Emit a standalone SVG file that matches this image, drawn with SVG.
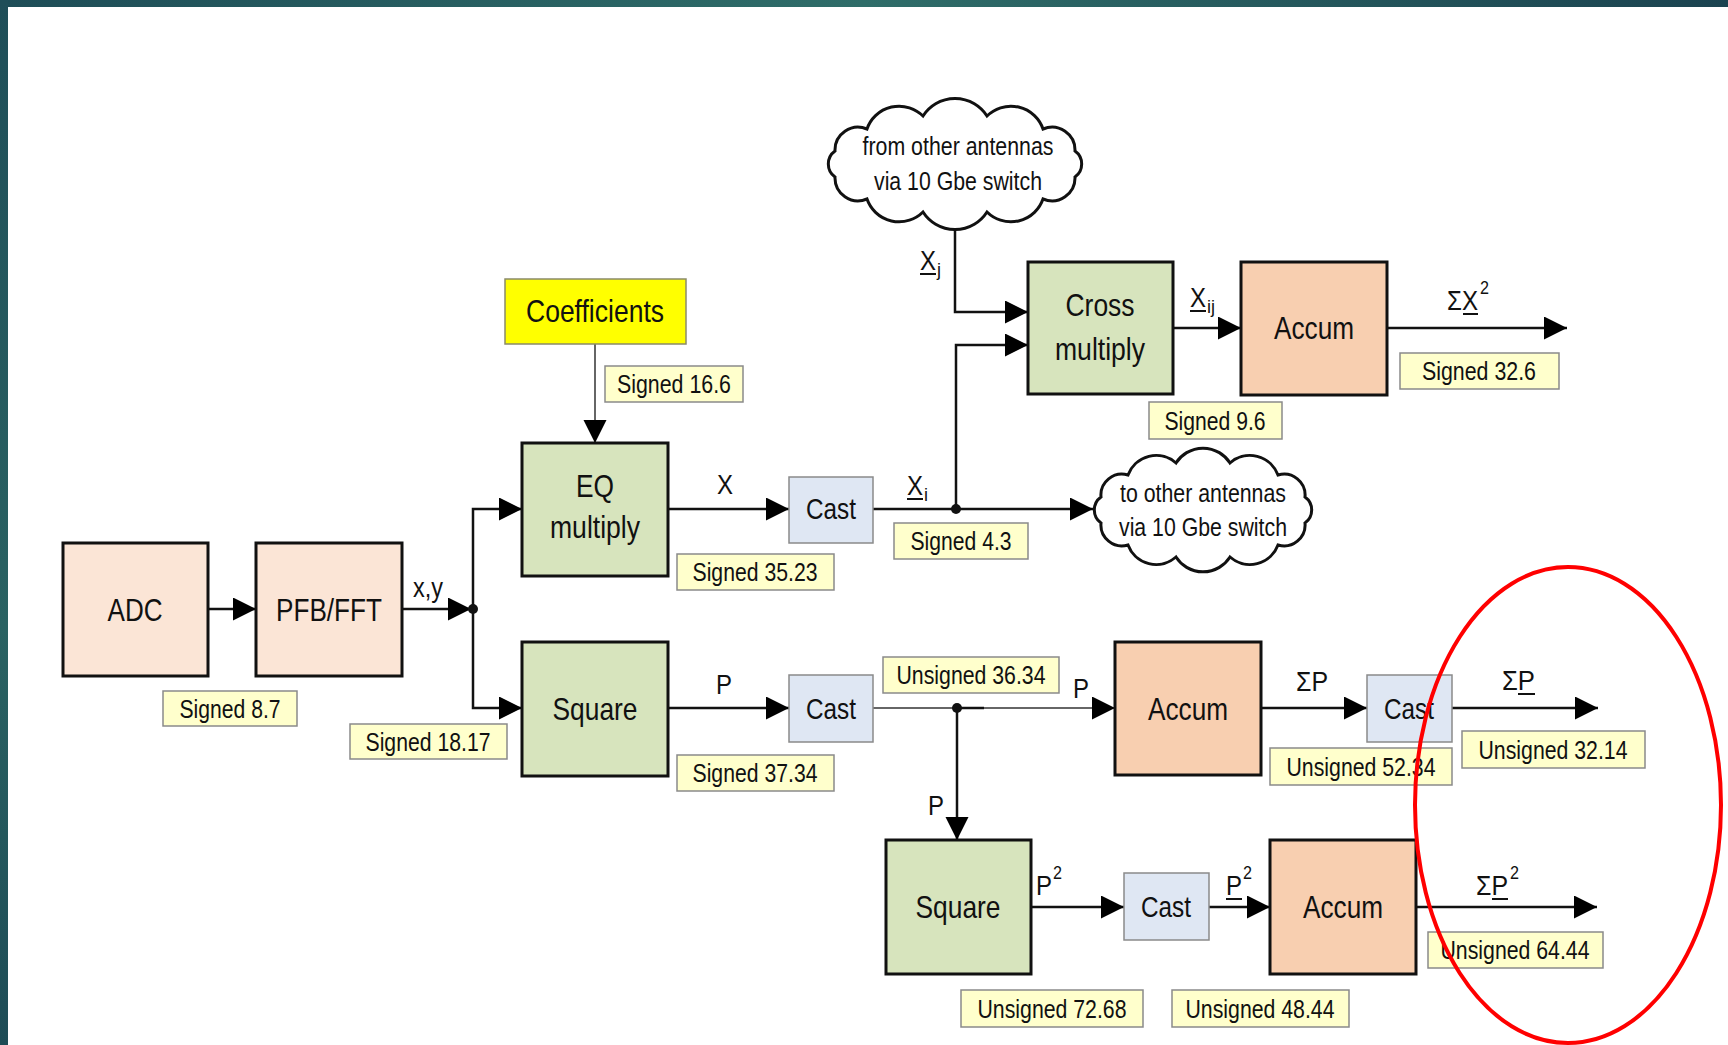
<svg xmlns="http://www.w3.org/2000/svg" width="1728" height="1045" viewBox="0 0 1728 1045">
<defs>
<linearGradient id="gtop" x1="0" y1="0" x2="1" y2="0">
<stop offset="0" stop-color="#1e4d57"/><stop offset="0.5" stop-color="#2f6d69"/><stop offset="1" stop-color="#1b4350"/>
</linearGradient>
<linearGradient id="gleft" x1="0" y1="0" x2="0" y2="1">
<stop offset="0" stop-color="#1f4e58"/><stop offset="0.6" stop-color="#2a6262"/><stop offset="1" stop-color="#1e4c56"/>
</linearGradient>
<marker id="ah" markerUnits="userSpaceOnUse" markerWidth="24" markerHeight="24" refX="23" refY="11.5" orient="auto">
<path d="M0,0 L23,11.5 L0,23 z" fill="#000"/>
</marker>
<style>
text{font-family:"Liberation Sans Narrow","Liberation Sans",Arial,sans-serif;fill:#111;text-anchor:middle}
text.st{text-anchor:start}
.box{stroke:#111;stroke-width:3}
.green{fill:#d7e4bd}
.peach{fill:#fbe5d6}
.accum{fill:#f8cfb0}
.cast{fill:#dfe7f3;stroke:#8a8a8a;stroke-width:1.5}
.coef{fill:#ffff00;stroke:#8a8a6a;stroke-width:1.5}
.lbl{fill:#ffffcc;stroke:#8a8a8a;stroke-width:1.5}
.cloud{fill:#fff;stroke:#111;stroke-width:3}
.t32{font-size:32px}
.t30{font-size:30px}
.t26{font-size:26px}
.t28{font-size:28px}
.sub{font-size:19px}
.wire{fill:none;stroke:#111;stroke-width:2.5}
.thin{fill:none;stroke:#333;stroke-width:1.5}
.ul{stroke:#111;stroke-width:2}
</style>
</defs>
<rect x="0" y="0" width="1728" height="1045" fill="#fff"/>
<rect x="0" y="0" width="1728" height="7" fill="url(#gtop)"/>
<rect x="0" y="0" width="8" height="1045" fill="url(#gleft)"/>

<g id="connectors">
<path class="wire" d="M208,609 H256" marker-end="url(#ah)"/>
<path class="wire" d="M402,609 H471" marker-end="url(#ah)"/>
<path class="wire" d="M473,609 V509 H522" marker-end="url(#ah)"/>
<path class="wire" d="M473,609 V708 H522" marker-end="url(#ah)"/>
<path class="thin" d="M595,344 V443" marker-end="url(#ah)"/>
<path class="wire" d="M668,509 H789" marker-end="url(#ah)"/>
<path class="wire" d="M873,509 H1093" marker-end="url(#ah)"/>
<path class="wire" d="M956,509 V345 H1028" marker-end="url(#ah)"/>
<path class="wire" d="M955,226 V312 H1028" marker-end="url(#ah)"/>
<path class="wire" d="M1173,328 H1241" marker-end="url(#ah)"/>
<path class="wire" d="M1387,328 H1567" marker-end="url(#ah)"/>
<path class="wire" d="M668,708 H789" marker-end="url(#ah)"/>
<path class="thin" d="M873,708 H1115" marker-end="url(#ah)"/>
<path class="wire" d="M957,708 H984"/>
<path class="wire" d="M957,708 V840" marker-end="url(#ah)"/>
<path class="wire" d="M1261,708 H1367" marker-end="url(#ah)"/>
<path class="wire" d="M1452,708 H1598" marker-end="url(#ah)"/>
<path class="wire" d="M1031,907 H1124" marker-end="url(#ah)"/>
<path class="wire" d="M1209,907 H1270" marker-end="url(#ah)"/>
<path class="wire" d="M1416,907 H1597" marker-end="url(#ah)"/>
<circle cx="473" cy="609" r="5" fill="#111"/>
<circle cx="956" cy="509" r="5" fill="#111"/>
<circle cx="957" cy="708" r="5" fill="#111"/>
</g>

<g id="edge-labels">
<text class="t28" x="428" y="597" textLength="30" lengthAdjust="spacingAndGlyphs">x,y</text>
<text class="t28" x="725" y="494" textLength="16" lengthAdjust="spacingAndGlyphs">X</text>
<g id="lbl-xi"><text class="t28 st" x="907" y="495" textLength="16" lengthAdjust="spacingAndGlyphs">X</text><text class="sub st" x="924" y="501" textLength="4" lengthAdjust="spacingAndGlyphs">i</text><line class="ul" x1="907" y1="499" x2="923" y2="499"/></g>
<g id="lbl-xj"><text class="t28 st" x="920" y="270" textLength="16" lengthAdjust="spacingAndGlyphs">X</text><text class="sub st" x="937" y="276" textLength="4" lengthAdjust="spacingAndGlyphs">j</text><line class="ul" x1="920" y1="274" x2="936" y2="274"/></g>
<g id="lbl-xij"><text class="t28 st" x="1190" y="307" textLength="16" lengthAdjust="spacingAndGlyphs">X</text><text class="sub st" x="1207" y="313" textLength="8" lengthAdjust="spacingAndGlyphs">ij</text><line class="ul" x1="1190" y1="311" x2="1206" y2="311"/></g>
<g id="lbl-sx2"><text class="t28 st" x="1447" y="310" textLength="31" lengthAdjust="spacingAndGlyphs">ΣX</text><text class="sub st" x="1480" y="294" textLength="9" lengthAdjust="spacingAndGlyphs">2</text><line class="ul" x1="1463" y1="314" x2="1478" y2="314"/></g>
<text class="t28" x="724" y="694" textLength="16" lengthAdjust="spacingAndGlyphs">P</text>
<text class="t28" x="1081" y="698" textLength="16" lengthAdjust="spacingAndGlyphs">P</text>
<text class="t28" x="936" y="815" textLength="16" lengthAdjust="spacingAndGlyphs">P</text>
<text class="t28" x="1312" y="691" textLength="32" lengthAdjust="spacingAndGlyphs">ΣP</text>
<g id="lbl-sp"><text class="t28 st" x="1502" y="690" textLength="33" lengthAdjust="spacingAndGlyphs">ΣP</text><line class="ul" x1="1518" y1="694" x2="1535" y2="694"/></g>
<g id="lbl-p2a"><text class="t28 st" x="1036" y="895" textLength="16" lengthAdjust="spacingAndGlyphs">P</text><text class="sub st" x="1053" y="879" textLength="9" lengthAdjust="spacingAndGlyphs">2</text></g>
<g id="lbl-p2b"><text class="t28 st" x="1226" y="895" textLength="16" lengthAdjust="spacingAndGlyphs">P</text><text class="sub st" x="1243" y="879" textLength="9" lengthAdjust="spacingAndGlyphs">2</text><line class="ul" x1="1226" y1="899" x2="1242" y2="899"/></g>
<g id="lbl-sp2"><text class="t28 st" x="1476" y="895" textLength="32" lengthAdjust="spacingAndGlyphs">ΣP</text><text class="sub st" x="1510" y="879" textLength="9" lengthAdjust="spacingAndGlyphs">2</text><line class="ul" x1="1492" y1="899" x2="1508" y2="899"/></g>
</g>

<g id="adc"><rect class="box peach" x="63" y="543" width="145" height="133"/><text class="t32" x="135" y="621" textLength="55" lengthAdjust="spacingAndGlyphs">ADC</text></g>
<g id="pfb"><rect class="box peach" x="256" y="543" width="146" height="133"/><text class="t32" x="329" y="621" textLength="106" lengthAdjust="spacingAndGlyphs">PFB/FFT</text></g>
<g id="coefficients"><rect class="coef" x="505" y="279" width="181" height="65"/><text class="t32" x="595" y="322" textLength="138" lengthAdjust="spacingAndGlyphs">Coefficients</text></g>
<g id="eq"><rect class="box green" x="522" y="443" width="146" height="133"/><text class="t32" x="595" y="497" textLength="38" lengthAdjust="spacingAndGlyphs">EQ</text><text class="t32" x="595" y="538" textLength="90" lengthAdjust="spacingAndGlyphs">multiply</text></g>
<g id="square1"><rect class="box green" x="522" y="642" width="146" height="134"/><text class="t32" x="595" y="720" textLength="85" lengthAdjust="spacingAndGlyphs">Square</text></g>
<g id="cast1"><rect class="cast" x="789" y="477" width="84" height="66"/><text class="t30" x="831" y="519" textLength="50" lengthAdjust="spacingAndGlyphs">Cast</text></g>
<g id="cast2"><rect class="cast" x="789" y="675" width="84" height="67"/><text class="t30" x="831" y="719" textLength="50" lengthAdjust="spacingAndGlyphs">Cast</text></g>
<g id="cloud-from">
<path class="cloud" d="M1075,177 A23,23 0 0 1 1043,199 A34,34 0 0 1 987,212 A38,38 0 0 1 923,212 A34,34 0 0 1 867,199 A23,23 0 0 1 835,177 A16,16 0 0 1 835,151 A23,23 0 0 1 867,129 A34,34 0 0 1 923,116 A38,38 0 0 1 987,116 A34,34 0 0 1 1043,129 A23,23 0 0 1 1075,151 A16,16 0 0 1 1075,177 z"/>
<text class="t26" x="958" y="155" textLength="191" lengthAdjust="spacingAndGlyphs">from other antennas</text>
<text class="t26" x="958" y="190" textLength="168" lengthAdjust="spacingAndGlyphs">via 10 Gbe switch</text>
</g>
<g id="cloud-to">
<path class="cloud" d="M1305,523 A21,21 0 0 1 1278,545 A30,30 0 0 1 1230,557 A32,32 0 0 1 1176,557 A30,30 0 0 1 1128,545 A21,21 0 0 1 1101,523 A16,16 0 0 1 1101,497 A21,21 0 0 1 1128,475 A30,30 0 0 1 1176,463 A32,32 0 0 1 1230,463 A30,30 0 0 1 1278,475 A21,21 0 0 1 1305,497 A16,16 0 0 1 1305,523 z"/>
<text class="t26" x="1203" y="502" textLength="166" lengthAdjust="spacingAndGlyphs">to other antennas</text>
<text class="t26" x="1203" y="536" textLength="168" lengthAdjust="spacingAndGlyphs">via 10 Gbe switch</text>
</g>
<g id="cross"><rect class="box green" x="1028" y="262" width="145" height="132"/><text class="t32" x="1100" y="316" textLength="69" lengthAdjust="spacingAndGlyphs">Cross</text><text class="t32" x="1100" y="360" textLength="90" lengthAdjust="spacingAndGlyphs">multiply</text></g>
<g id="accum1"><rect class="box accum" x="1241" y="262" width="146" height="133"/><text class="t32" x="1314" y="339" textLength="80" lengthAdjust="spacingAndGlyphs">Accum</text></g>
<g id="accum2"><rect class="box accum" x="1115" y="642" width="146" height="133"/><text class="t32" x="1188" y="720" textLength="80" lengthAdjust="spacingAndGlyphs">Accum</text></g>
<g id="cast3"><rect class="cast" x="1367" y="675" width="85" height="67"/><text class="t30" x="1409" y="719" textLength="50" lengthAdjust="spacingAndGlyphs">Cast</text></g>
<g id="square2"><rect class="box green" x="886" y="840" width="145" height="134"/><text class="t32" x="958" y="918" textLength="85" lengthAdjust="spacingAndGlyphs">Square</text></g>
<g id="cast4"><rect class="cast" x="1124" y="873" width="85" height="67"/><text class="t30" x="1166" y="917" textLength="50" lengthAdjust="spacingAndGlyphs">Cast</text></g>
<g id="accum3"><rect class="box accum" x="1270" y="840" width="146" height="134"/><text class="t32" x="1343" y="918" textLength="80" lengthAdjust="spacingAndGlyphs">Accum</text></g>

<g id="lbl-s87"><rect class="lbl" x="163" y="691" width="134" height="35"/><text class="t26" x="230" y="718" textLength="101" lengthAdjust="spacingAndGlyphs">Signed 8.7</text></g>
<g id="lbl-s1817"><rect class="lbl" x="350" y="724" width="157" height="35"/><text class="t26" x="428" y="751" textLength="125" lengthAdjust="spacingAndGlyphs">Signed 18.17</text></g>
<g id="lbl-s166"><rect class="lbl" x="605" y="366" width="138" height="36"/><text class="t26" x="674" y="393" textLength="114" lengthAdjust="spacingAndGlyphs">Signed 16.6</text></g>
<g id="lbl-s3523"><rect class="lbl" x="677" y="554" width="157" height="36"/><text class="t26" x="755" y="581" textLength="125" lengthAdjust="spacingAndGlyphs">Signed 35.23</text></g>
<g id="lbl-s43"><rect class="lbl" x="894" y="523" width="134" height="36"/><text class="t26" x="961" y="550" textLength="101" lengthAdjust="spacingAndGlyphs">Signed 4.3</text></g>
<g id="lbl-s96"><rect class="lbl" x="1149" y="402" width="133" height="37"/><text class="t26" x="1215" y="430" textLength="101" lengthAdjust="spacingAndGlyphs">Signed 9.6</text></g>
<g id="lbl-s326"><rect class="lbl" x="1400" y="353" width="159" height="36"/><text class="t26" x="1479" y="380" textLength="114" lengthAdjust="spacingAndGlyphs">Signed 32.6</text></g>
<g id="lbl-s3734"><rect class="lbl" x="677" y="755" width="157" height="36"/><text class="t26" x="755" y="782" textLength="125" lengthAdjust="spacingAndGlyphs">Signed 37.34</text></g>
<g id="lbl-u3634"><rect class="lbl" x="883" y="657" width="176" height="36"/><text class="t26" x="971" y="684" textLength="149" lengthAdjust="spacingAndGlyphs">Unsigned 36.34</text></g>
<g id="lbl-u5234"><rect class="lbl" x="1270" y="748" width="182" height="37"/><text class="t26" x="1361" y="776" textLength="149" lengthAdjust="spacingAndGlyphs">Unsigned 52.34</text></g>
<g id="lbl-u3214"><rect class="lbl" x="1462" y="731" width="183" height="37"/><text class="t26" x="1553" y="759" textLength="149" lengthAdjust="spacingAndGlyphs">Unsigned 32.14</text></g>
<g id="lbl-u6444"><rect class="lbl" x="1428" y="932" width="175" height="36"/><text class="t26" x="1515" y="959" textLength="149" lengthAdjust="spacingAndGlyphs">Unsigned 64.44</text></g>
<g id="lbl-u7268"><rect class="lbl" x="961" y="990" width="182" height="37"/><text class="t26" x="1052" y="1018" textLength="149" lengthAdjust="spacingAndGlyphs">Unsigned 72.68</text></g>
<g id="lbl-u4844"><rect class="lbl" x="1172" y="990" width="177" height="37"/><text class="t26" x="1260" y="1018" textLength="149" lengthAdjust="spacingAndGlyphs">Unsigned 48.44</text></g>

<ellipse id="highlight" cx="1568" cy="805" rx="153" ry="238" fill="none" stroke="#ff0000" stroke-width="4"/>
</svg>
